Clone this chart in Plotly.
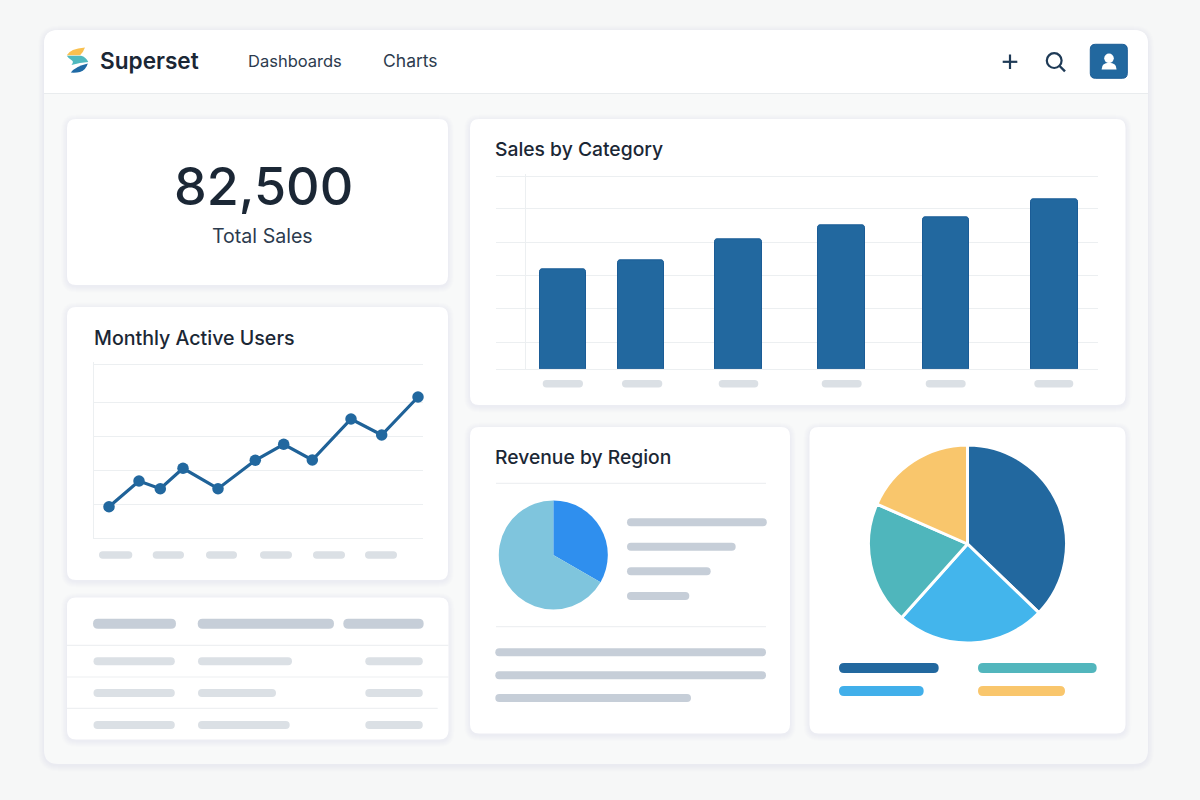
import re
import plotly.graph_objects as go

# ---- data ----
line_x = [14.7, 44.7, 66, 88.7, 123.7, 161, 189.4, 218, 256.7, 287.4, 323.7]
line_values = [31.6, 57.3, 49.6, 70, 49.6, 78, 94, 78.3, 119.3, 103.3, 141.3]
line_grid_y = [34, 68, 102.3, 135.6, 174]

bar_x = [66.9, 145, 242.7, 345.6, 449.8, 558.3]
bar_values = [100.2, 108.8, 130.2, 144.2, 151.8, 169.8]
bar_grid_y = [26.7, 60.3, 93.7, 127, 160.3, 192.7]
bar_grid_x = [29.3]

region_labels = ["Region A", "Region B"]
region_values = [33.3, 66.7]

share_labels = ["Segment A", "Segment B", "Segment C", "Segment D"]
share_values = [37.2, 24.4, 20, 18.4]

kpi_value = "82,500"
kpi_label = "Total Sales"
brand = "Superset"
nav_items = ["Dashboards", "Charts"]
titles = ["Monthly Active Users", "Sales by Category", "Revenue by Region"]

# ---- style ----
FONT = "Inter"
INK = "#1B2735"
NAV = "#2C3B4E"
BLUE = "#22689F"
EDGE = "#1B5C96"
GRID = "#ECEFF1"
PILL_D = "#C6CED8"
PILL_L = "#DBE0E5"
W, H = 1200, 800


def X(p):
    return p / W


def Y(p):
    return 1 - p / H


def path(s):
    """Pixel path (absolute pairs only) -> paper coordinates."""
    state = {"i": 0}

    def conv(m):
        v = float(m.group(0))
        r = X(v) if state["i"] % 2 == 0 else Y(v)
        state["i"] += 1
        return f"{r:.5f}"

    return re.sub(r"-?\d+\.?\d*", conv, s)


def rr(x0, y0, x1, y1, r):
    return (f"M{x0+r},{y0} L{x1-r},{y0} Q{x1},{y0} {x1},{y0+r} L{x1},{y1-r} "
            f"Q{x1},{y1} {x1-r},{y1} L{x0+r},{y1} Q{x0},{y1} {x0},{y1-r} "
            f"L{x0},{y0+r} Q{x0},{y0} {x0+r},{y0} Z")


shapes = []


def add_path(s, fill, line=None, lw=0, layer="above"):
    shapes.append(dict(type="path", xref="paper", yref="paper", path=path(s),
                       fillcolor=fill, layer=layer,
                       line=dict(color=line or "rgba(0,0,0,0)", width=lw)))


def card(x0, y0, x1, y1, r=9, fill="#FFFFFF", spread=6, alpha=0.006):
    for k in range(spread, 0, -1):
        add_path(rr(x0 - k, y0 - k + 1.5, x1 + k, y1 + k + 1.5, r + k),
                 f"rgba(40,55,70,{alpha})", layer="below")
    add_path(rr(x0, y0, x1, y1, r), fill, layer="below")


def pill(x0, x1, yc, h, color):
    add_path(rr(x0, yc - h / 2, x1, yc + h / 2, h / 2), color)


def hline(x0, x1, y, color="#EEF0F2", w=1.2):
    shapes.append(dict(type="line", xref="paper", yref="paper", x0=X(x0), x1=X(x1),
                       y0=Y(y), y1=Y(y), line=dict(color=color, width=w)))


def stroke(x0, y0, x1, y1, color, w):
    shapes.append(dict(type="line", xref="paper", yref="paper", x0=X(x0), x1=X(x1),
                       y0=Y(y0), y1=Y(y1), line=dict(color=color, width=w)))


def circle(cx, cy, r, fill, line=None, lw=0):
    shapes.append(dict(type="circle", xref="paper", yref="paper",
                       x0=X(cx - r), x1=X(cx + r), y0=Y(cy + r), y1=Y(cy - r),
                       fillcolor=fill, line=dict(color=line or "rgba(0,0,0,0)", width=lw)))


# frame + header
card(44, 30, 1148, 764, r=14, fill="#F8F9F9", spread=6, alpha=0.006)
add_path("M58,30 L1134,30 Q1148,30 1148,44 L1148,93 L44,93 L44,44 Q44,30 58,30 Z",
         "#FFFFFF", layer="below")
hline(44, 1148, 93.5, "#E9ECEE", 1.2)

# cards
card(67, 119, 448, 285)
card(67, 307, 448, 580)
card(67, 597.5, 448.5, 739.5)
card(470, 119, 1125.5, 405)
card(470, 427, 790, 733.5)
card(809.5, 427, 1125.5, 733.5)

# logo
add_path("M66.8,55.2 Q70,49 85,47.6 Q83.5,52 80,55.2 Z", "#F9C04F")
add_path("M66.8,55.8 L81,55.8 Q86,57 88.3,62 Q80,62.5 71.5,65 Q74,62 72,60.5 Q68,58 66.8,55.8 Z", "#4FB9BF")
add_path("M70.8,72.6 Q75,66.5 87.8,63.5 Q86,70 80,72 Q76,73 70.8,72.6 Z", "#1F6AA5")

# header icons
stroke(1002.7, 61.8, 1017.3, 61.8, "#1E3A56", 2.2)
stroke(1010, 54.5, 1010, 69, "#1E3A56", 2.2)
circle(1054.2, 60.6, 7.4, "rgba(0,0,0,0)", "#1E3A56", 2.2)
stroke(1059.6, 66, 1065, 71.4, "#1E3A56", 2.4)
add_path(rr(1090.3, 44.3, 1127.3, 78.3, 5), BLUE, EDGE, 1)
circle(1109, 58.3, 4.8, "#FFFFFF")
add_path("M1101.6,69.4 Q1101.6,62.8 1109,62.8 Q1116.6,62.8 1116.6,69.4 Z", "#FFFFFF")

# line chart x labels
for a, b in [(99, 132.3), (152.7, 184), (206, 237), (260, 292), (313, 345), (365, 397)]:
    pill(a, b, 555, 7.4, PILL_L)
# bar chart x labels
for a, b in [(542.7, 583), (622, 662.3), (718.7, 758.3), (821.7, 861.7), (925.7, 965.7), (1034.3, 1073.3)]:
    pill(a, b, 383.7, 7.4, PILL_L)

# table
for a, b in [(93, 176), (197.7, 334), (343.3, 423.7)]:
    pill(a, b, 623.7, 10, PILL_D)
hline(67, 448.5, 645.3)
hline(67, 448.5, 677)
hline(67, 437.7, 708.3)
for yc, col2_end in [(661.3, 292), (693, 276), (725, 289.7)]:
    pill(93.5, 174.8, yc, 8, PILL_L)
    pill(198, col2_end, yc, 8, PILL_L)
    pill(365.3, 422.8, yc, 8, PILL_L)

# revenue card
hline(496, 766, 483.3)
hline(496, 766, 626.7)
for yc, end in [(522.3, 766.8), (546.7, 735.7), (571.3, 710.7), (596, 689.3)]:
    pill(627, end, yc, 8, PILL_D)
for yc, end in [(652.3, 766), (675.3, 766), (698, 691)]:
    pill(495.3, end, yc, 8, PILL_D)

# share legend
pill(839, 938.7, 668, 10, BLUE)
pill(978, 1096.7, 668, 10, "#52B6BD")
pill(839, 923.7, 691, 10, "#41AFEA")
pill(978, 1065, 691, 10, "#F9C66C")


def text(t, x, y, size, color=INK, weight=400, anchor="left"):
    return dict(text=t, x=X(x), y=Y(y), xref="paper", yref="paper", showarrow=False,
                xanchor=anchor, yanchor="middle", borderpad=0, borderwidth=0,
                font=dict(family=FONT, size=size, color=color, weight=weight))


annotations = [
    text(brand, 100, 60.8, 22.6, INK, 600),
    text(nav_items[0], 248, 60.5, 16.5, NAV),
    text(nav_items[1], 383, 60.5, 17.5, NAV),
    text(kpi_value, 263.5, 186, 52, INK, 500, "center"),
    text(kpi_label, 262, 236, 19.6, NAV, 400, "center"),
    text(titles[0], 94, 337.5, 19.6, INK, 450),
    text(titles[1], 495, 149, 19.3, INK, 450),
    text(titles[2], 495, 457, 19.3, INK, 450),
]

fig = go.Figure()
fig.add_trace(go.Scatter(x=line_x, y=line_values, mode="lines+markers", xaxis="x", yaxis="y",
                         line=dict(color="#1F6298", width=3.2),
                         marker=dict(color=BLUE, size=11.5, line=dict(width=0)),
                         cliponaxis=False, hoverinfo="skip", showlegend=False))
fig.add_trace(go.Bar(x=bar_x, y=bar_values, width=46.5, xaxis="x2", yaxis="y2",
                     marker=dict(color=BLUE, cornerradius=3, line=dict(color=EDGE, width=1)),
                     hoverinfo="skip", showlegend=False))
fig.add_trace(go.Pie(labels=region_labels, values=region_values, sort=False, direction="clockwise",
                     rotation=0, textinfo="none", hoverinfo="skip", showlegend=False,
                     marker=dict(colors=["#2F8FEE", "#7FC5DD"], line=dict(width=0)),
                     domain=dict(x=[X(498.8), X(607.8)], y=[Y(609.5), Y(500.5)])))
fig.add_trace(go.Pie(labels=share_labels, values=share_values, sort=False, direction="clockwise",
                     rotation=0, textinfo="none", hoverinfo="skip", showlegend=False,
                     marker=dict(colors=[BLUE, "#43B5EC", "#4FB6BC", "#F9C66C"],
                                 line=dict(color="#FFFFFF", width=3)),
                     domain=dict(x=[X(868.5), X(1066.5)], y=[Y(643), Y(445)])))


def base_axis(**kw):
    d = dict(showticklabels=False, ticks="", zeroline=False, showgrid=True,
             gridcolor=GRID, gridwidth=1.1, fixedrange=True, linecolor=GRID, linewidth=1.2)
    d.update(kw)
    return d


fig.update_layout(
    width=W, height=H, margin=dict(l=0, r=0, t=0, b=0, pad=0),
    paper_bgcolor="#F6F7F7", plot_bgcolor="rgba(0,0,0,0)",
    font=dict(family=FONT), showlegend=False, hovermode=False,
    shapes=shapes, annotations=annotations,
    xaxis=base_axis(domain=[X(94.3), X(423)], range=[0, 328.7], showgrid=False,
                    showline=True, anchor="y"),
    yaxis=base_axis(domain=[Y(538.3), Y(362.3)], range=[0, 176], tickmode="array",
                    tickvals=line_grid_y, showline=True, anchor="x"),
    xaxis2=base_axis(domain=[X(496), X(1098)], range=[0, 602], tickmode="array",
                     tickvals=bar_grid_x, showline=True, anchor="y2"),
    yaxis2=base_axis(domain=[Y(369), Y(174.3)], range=[0, 194.7], tickmode="array",
                     tickvals=bar_grid_y, showline=False, anchor="x2"),
    bargap=0,
)

fig.write_html("out.html", config={"displayModeBar": False},
               post_script="document.body.style.margin='0';document.body.style.overflow='hidden';")
